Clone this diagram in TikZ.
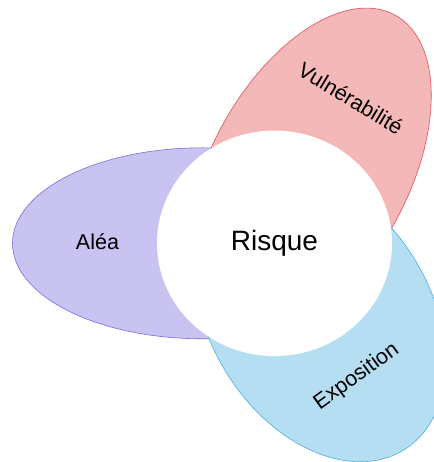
\documentclass[tikz,border=0pt]{standalone}
\usepackage{fontspec}
\setmainfont{Liberation Sans}
\usepackage{xcolor}
\usepackage{tikz}
\usetikzlibrary{positioning,shapes.geometric}

\definecolor{aleafill}{HTML}{C8C3F1}
\definecolor{aleadraw}{HTML}{7A6EE0}
\definecolor{vulnfill}{HTML}{F4B8B9}
\definecolor{vulndraw}{HTML}{E0505A}
\definecolor{expofill}{HTML}{B5DEF2}
\definecolor{expodraw}{HTML}{4AAEE0}

\tikzset{
  petal/.style={line width=0.6pt},
  label/.style={font=\fontsize{21.5}{24}\selectfont, inner sep=0pt}
}

\begin{document}
\begin{tikzpicture}[x=1pt,y=1pt]
    \useasboundingbox (-274.5,-218.7) rectangle (158.5,243.3);
    % three ellipses: colour / centre / angle / half axes
    \foreach \col/\cx/\cy/\ang/\ra/\rb in {alea/-72/0/0/190/95.5,
                                          vuln/34.5/70.1/61.5/180/99,
                                          expo/45.7/-72.1/-57.9/158.4/109.9} {
      \filldraw[petal, fill=\col fill, draw=\col draw]
        (\cx,\cy) ellipse[x radius=\ra, y radius=\rb, rotate=\ang];
    }
    \node[ellipse, fill=white, minimum width=235, minimum height=225.5, inner sep=0pt,
          font=\fontsize{28}{32}\selectfont] (risque) at (0,0) {Risque};
    \node[label] (alea) at (-177,2) {Aléa};
    \node[label, rotate=-31] (vuln) at (76.3,145) {Vulnérabilité};
    \node[label, rotate=36] (expo) at (82.2,-133.4) {Exposition};
  \end{tikzpicture}
\end{document}
